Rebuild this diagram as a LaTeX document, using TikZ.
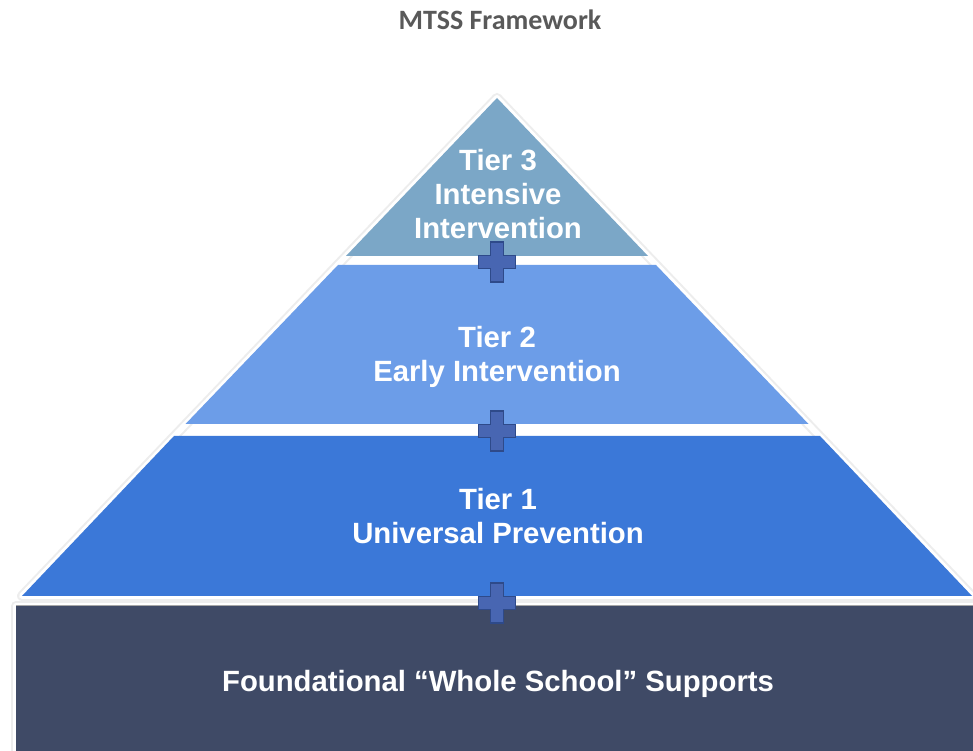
\documentclass[tikz,border=0pt]{standalone}
\usepackage{fontspec}
\setmainfont{Liberation Sans}
\newfontfamily\titlefont{Carlito}
\definecolor{tierthree}{HTML}{7BA7C7}
\definecolor{tiertwo}{HTML}{6C9DE8}
\definecolor{tierone}{HTML}{3B78D8}
\definecolor{basebox}{HTML}{3F4A66}
\definecolor{plusfill}{HTML}{4866B2}
\definecolor{plusedge}{HTML}{2E4A8A}
\definecolor{titlegray}{HTML}{595959}
\begin{document}
\begin{tikzpicture}[x=1pt,y=1pt,
  tiertext/.style={text=white,font=\fontsize{29.3}{34}\selectfont\bfseries,align=center},
  plussign/.style={fill=plusfill,draw=plusedge,line width=1.6pt,line join=miter},
  halo/.style={draw=black!7,line width=10pt,line join=round},
  rim/.style={draw=white,line width=6pt,line join=round}]
\useasboundingbox (0,0) rectangle (973,751);
\fill[white] (0,0) rectangle (973,751);

% soft outline around the pyramid and the base block
\draw[halo] (497,653) -- (22,155) -- (972,155) -- cycle;
\draw[halo] (16,0) -- (16,145) -- (980,145);
\draw[rim] (497,653) -- (22,155) -- (972,155) -- cycle;
\draw[rim] (16,0) -- (16,145) -- (980,145);

% pyramid tiers
\fill[tierthree] (497,653) -- (346,495) -- (648,495) -- cycle;
\fill[tiertwo] (338,486) -- (656,486) -- (808.5,327) -- (185.5,327) -- cycle;
\fill[tierone] (174,315) -- (820,315) -- (972,155) -- (22,155) -- cycle;
\fill[basebox] (16,0) rectangle (980,145);
\draw[black!35,line width=0.8pt] (16,145.5) -- (980,145.5);

% title
\node[text=titlegray,font=\titlefont\fontsize{28}{32}\selectfont\bfseries] (title) at (500,731) {MTSS Framework};

% tier labels
\node[tiertext] (t3) at (498,557) {Tier 3\\Intensive\\Intervention};
\node[tiertext] (t2) at (497,394) {Tier 2\\Early Intervention};
\node[tiertext] (t1) at (498,235) {Tier 1\\Universal Prevention};
\node[tiertext] (found) at (498,67) {Foundational “Whole School” Supports};

% plus signs joining the levels
\foreach \n/\cy in {pa/489, pb/320, pc/148}{
  \draw[plussign] (490.5,\cy+20) -- (503.5,\cy+20) -- (503.5,\cy+6.5) -- (515.5,\cy+6.5)
    -- (515.5,\cy-6.5) -- (503.5,\cy-6.5) -- (503.5,\cy-20) -- (490.5,\cy-20)
    -- (490.5,\cy-6.5) -- (478.5,\cy-6.5) -- (478.5,\cy+6.5) -- (490.5,\cy+6.5) -- cycle;
  \coordinate (\n) at (497,\cy);
}
\end{tikzpicture}
\end{document}
